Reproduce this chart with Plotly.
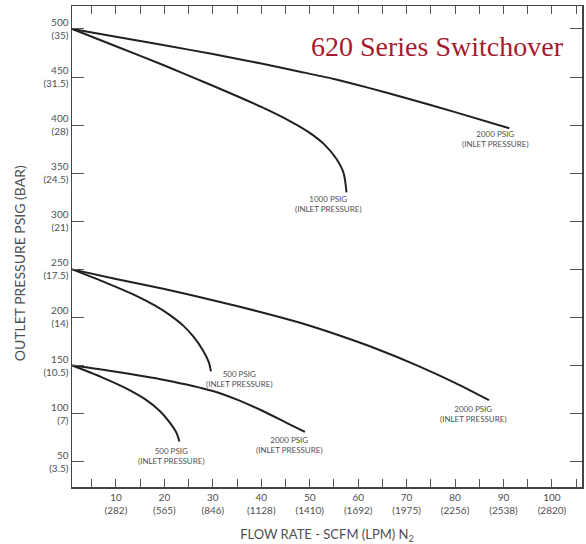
import plotly.graph_objects as go

# ---- data ----
x_2000_500 = [1, 10, 20, 30, 40, 48, 55, 62, 70, 80, 91.2]
y_2000_500 = [500, 492, 483, 474, 464, 455.6, 448, 439, 428, 413.5, 396.7]

x_1000_500 = [1, 10, 20, 30, 40, 46, 50, 53, 55.5, 57, 57.6]
y_1000_500 = [500, 482, 462, 441, 419, 404, 392, 380, 365, 350, 330]

x_2000_250 = [1, 10, 20, 30, 40, 48, 56, 64, 72, 80, 87]
y_2000_250 = [250, 240, 229.5, 218, 205.5, 194.5, 181.5, 167, 150.5, 132, 114]

x_500_250 = [1, 8, 14, 18, 21, 24, 26, 28, 29.2, 29.6]
y_500_250 = [250, 236, 223, 212.5, 203, 191, 180, 165.5, 153, 144]

x_2000_150 = [1, 10, 20, 30, 35, 40, 45, 49]
y_2000_150 = [150, 143.5, 135, 123.5, 114.5, 103.5, 91, 81]

x_500_150 = [1, 7, 12, 16, 19, 21, 22.5, 23.1]
y_500_150 = [150, 138, 126.5, 115, 103, 91.5, 80, 71]

x_tickvals = [5, 10, 15, 20, 25, 30, 35, 40, 45, 50, 55, 60, 65, 70, 75, 80, 85, 90, 95, 100, 105]
x_ticktext = [" ", "10<br>(282)", " ", "20<br>(565)", " ", "30<br>(846)", " ", "40<br>(1128)", " ",
              "50<br>(1410)", " ", "60<br>(1692)", " ", "70<br>(1975)", " ", "80<br>(2256)", " ",
              "90<br>(2538)", " ", "100<br>(2820)", " "]
y_tickvals = [50, 100, 150, 200, 250, 300, 350, 400, 450, 500]
y_ticktext = ["50<br>(3.5)", "100<br>(7)", "150<br>(10.5)", "200<br>(14)", "250<br>(17.5)",
              "300<br>(21)", "350<br>(24.5)", "400<br>(28)", "450<br>(31.5)", "500<br>(35)"]

series = [
    (x_2000_500, y_2000_500, "2000 PSIG", -14, 1),
    (x_1000_500, y_1000_500, "1000 PSIG", -18, 0),
    (x_2000_250, y_2000_250, "2000 PSIG", -15, -2),
    (x_500_250, y_500_250, "500 PSIG", 29, 4),
    (x_2000_150, y_2000_150, "2000 PSIG", -15, -1),
    (x_500_150, y_500_150, "500 PSIG", -8, -2),
]

LINE = "#231f20"
TXT = "#505050"
FONT = "Lato, Noto Sans, sans-serif"

fig = go.Figure()
annotations = []
for xs, ys, lab, dx, dy in series:
    fig.add_trace(go.Scatter(x=xs, y=ys, mode="lines",
                             line=dict(color=LINE, width=2, shape="spline", smoothing=0.7),
                             hoverinfo="skip", showlegend=False))
    annotations.append(dict(x=xs[-1], y=ys[-1], xref="x", yref="y",
                            text=lab + "<br>(INLET PRESSURE)", showarrow=False,
                            xanchor="center", yanchor="top", xshift=dx, yshift=dy,
                            font=dict(family=FONT, size=8, color=TXT), align="center"))

annotations.append(dict(x=0.716, y=0.915, xref="paper", yref="paper",
                        text="620 Series Switchover", showarrow=False,
                        xanchor="center", yanchor="middle",
                        font=dict(family="Liberation Serif, serif", size=28, color="#a6192e")))

# y-axis title (placed as a rotated annotation to match the reference position)
annotations.append(dict(x=-0.104, y=0.465, xref="paper", yref="paper",
                        text="OUTLET PRESSURE PSIG (BAR)", showarrow=False, textangle=-90,
                        xanchor="center", yanchor="middle",
                        font=dict(family=FONT, size=14, color=TXT)))

fig.update_layout(
    width=586, height=544,
    margin=dict(l=72, r=4, t=6, b=57, autoexpand=False),
    paper_bgcolor="white", plot_bgcolor="white",
    annotations=annotations,
    font=dict(family=FONT, color=TXT),
)
fig.update_xaxes(
    range=[0.93, 106.2], tickmode="array", tickvals=x_tickvals, ticktext=x_ticktext,
    ticks="inside", ticklen=8, tickwidth=1, tickcolor="#555",
    showline=True, linecolor="#444", linewidth=1.5, mirror="allticks",
    showgrid=False, zeroline=False, automargin=False,
    tickfont=dict(family=FONT, size=10, color=TXT),
    title=dict(text="FLOW RATE - SCFM (LPM) N<sub>2</sub>", font=dict(family=FONT, size=13, color=TXT), standoff=16),
)
fig.update_yaxes(
    range=[23.7, 523.9], tickmode="array", tickvals=y_tickvals, ticktext=y_ticktext,
    ticks="inside", ticklen=12, tickwidth=1, tickcolor="#555",
    showline=True, linecolor="#444", linewidth=1.5, mirror="allticks",
    showgrid=False, zeroline=False, automargin=False,
    tickfont=dict(family=FONT, size=10, color=TXT),
)

fig.write_html("out.html", config={"displayModeBar": False, "staticPlot": True},
               post_script="document.body.style.margin='0px';document.body.style.overflow='hidden';")
